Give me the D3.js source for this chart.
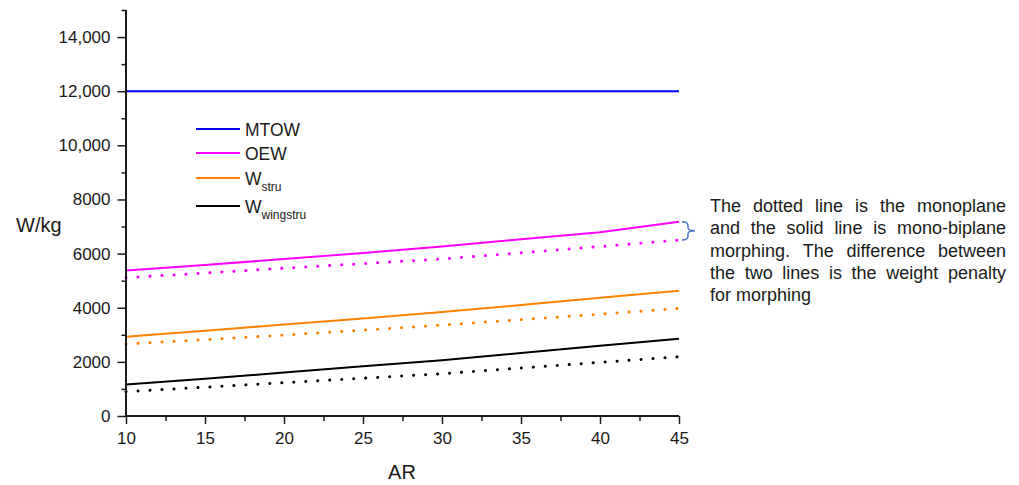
<!DOCTYPE html>
<html lang="en">
<head>
<meta charset="utf-8">
<script src="https://cdn.jsdelivr.net/npm/d3@7"></script>
<style>
  body { margin: 0; background: #fff; }
  text { font-family: "Liberation Sans", Arial, sans-serif; fill: #1a1a1a; }
</style>
</head>
<body>
<script>
var ar = [10, 15, 20, 25, 30, 35, 40, 45];
var mtow = [12000, 12000, 12000, 12000, 12000, 12000, 12000, 12000];
var oewSolid = [5380, 5580, 5800, 6020, 6260, 6530, 6790, 7180];
var oewDotted = [5110, 5280, 5460, 5630, 5800, 6030, 6260, 6500];
var struSolid = [2930, 3150, 3380, 3600, 3840, 4100, 4365, 4625];
var struDotted = [2660, 2820, 2990, 3170, 3360, 3560, 3760, 3975];
var wingSolid = [1160, 1375, 1606, 1840, 2060, 2326, 2592, 2855];
var wingDotted = [900, 1064, 1230, 1396, 1563, 1773, 1982, 2190];

var xTicks = [10, 15, 20, 25, 30, 35, 40, 45];
var yTicks = [0, 2000, 4000, 6000, 8000, 10000, 12000, 14000];
var yTickLabels = ['0', '2000', '4000', '6000', '8000', '10,000', '12,000', '14,000'];

var legendNames = ['MTOW', 'OEW', 'W', 'W'];
var legendSubs = ['', '', 'stru', 'wingstru'];

var noteLines = [
    'The dotted line is the monoplane',
    'and the solid line is mono-biplane',
    'morphing. The difference between',
    'the two lines is the weight penalty',
    'for morphing'
];

var series = [
    { values: mtow, color: '#0000ff', dotted: false },
    { values: oewSolid, color: '#ff00ff', dotted: false },
    { values: oewDotted, color: '#ff00ff', dotted: true },
    { values: struSolid, color: '#ff8000', dotted: false },
    { values: struDotted, color: '#ff8000', dotted: true },
    { values: wingSolid, color: '#000000', dotted: false },
    { values: wingDotted, color: '#000000', dotted: true }
];
var legendColors = ['#0000ff', '#ff00ff', '#ff8000', '#000000'];

var svg = d3.select('body').append('svg')
        .attr('width', 1019)
        .attr('height', 485);

var x = d3.scaleLinear().domain([10, 45]).range([126, 679]);
var y = d3.scaleLinear().domain([0, 15000]).range([416, 10]);

var line = d3.line()
        .x(function (d, i) { return x(ar[i]); })
        .y(function (d) { return y(d); });

svg.selectAll('path.series')
        .data(series)
        .enter()
        .append('path')
        .attr('class', 'series')
        .attr('fill', 'none')
        .attr('stroke', function (d) { return d.color; })
        .attr('stroke-width', function (d) { return d.dotted ? 3 : 2; })
        .attr('stroke-linecap', function (d) { return d.dotted ? 'round' : 'butt'; })
        .attr('stroke-dasharray', function (d) { return d.dotted ? '0.1,11.9' : null; })
        .attr('d', function (d) { return line(d.values); });

// axes
var yMinor = svg.append('g')
        .attr('transform', 'translate(126,0)')
        .call(d3.axisLeft(y).tickValues(d3.range(1000, 16000, 2000)).tickSize(4.5).tickFormat(''));
var yAxis = svg.append('g')
        .attr('transform', 'translate(126,0)')
        .call(d3.axisLeft(y).tickValues(yTicks).tickSize(8.5).tickPadding(7)
                .tickFormat(function (d, i) { return yTickLabels[i]; }));

var xMinor = svg.append('g')
        .attr('transform', 'translate(0,416)')
        .call(d3.axisBottom(x).tickValues(d3.range(12.5, 45, 5)).tickSize(5).tickFormat(''));
var xAxis = svg.append('g')
        .attr('transform', 'translate(0,416)')
        .call(d3.axisBottom(x).tickValues(xTicks).tickSize(8).tickPadding(8));

[yMinor, yAxis, xMinor, xAxis].forEach(function (g) {
    g.select('.domain').attr('stroke', '#1a1a1a').attr('stroke-width', 1.8);
    g.selectAll('.tick line').attr('stroke', '#1a1a1a').attr('stroke-width', 1.5);
    g.selectAll('.tick text').attr('font-size', 17).attr('font-family', '"Liberation Sans", Arial, sans-serif').attr('fill', '#1a1a1a');
});
yMinor.select('.domain').attr('d', 'M0,10V416');
yAxis.select('.domain').attr('d', 'M0,10V416');
xMinor.select('.domain').attr('d', 'M126,0H679');
xAxis.select('.domain').attr('d', 'M126,0H679');

// axis titles
svg.append('text').attr('x', 16).attr('y', 232).attr('font-size', 20).text('W/kg');
svg.append('text').attr('x', 402).attr('y', 479).attr('font-size', 20).attr('text-anchor', 'middle').text('AR');

// legend
var legendY = [129, 153, 178, 206];
var lg = svg.selectAll('g.legend')
        .data(legendNames)
        .enter()
        .append('g')
        .attr('class', 'legend')
        .attr('transform', function (d, i) { return 'translate(196,' + legendY[i] + ')'; });
lg.append('line')
        .attr('x1', 0).attr('x2', 44)
        .attr('stroke', function (d, i) { return legendColors[i]; })
        .attr('stroke-width', 2);
var lt = lg.append('text')
        .attr('x', 49).attr('y', 6.5)
        .attr('font-size', 17.5);
lt.append('tspan').text(function (d) { return d; });
lt.append('tspan')
        .attr('font-size', 12)
        .attr('dy', 6)
        .text(function (d, i) { return legendSubs[i]; });

// brace
var bx = x(45) + 3, bTop = y(oewSolid[7]), bBot = y(oewDotted[7]), bMid = (bTop + bBot) / 2;
svg.append('path')
        .attr('fill', 'none')
        .attr('stroke', '#4a76c8')
        .attr('stroke-width', 1.5)
        .attr('d', 'M' + bx + ',' + bTop + 'Q' + (bx + 6) + ',' + bTop + ' ' + (bx + 6) + ',' + (bTop + 4) +
                'V' + (bMid - 3) + 'Q' + (bx + 6) + ',' + bMid + ' ' + (bx + 13) + ',' + bMid +
                'Q' + (bx + 6) + ',' + bMid + ' ' + (bx + 6) + ',' + (bMid + 3) +
                'V' + (bBot - 4) + 'Q' + (bx + 6) + ',' + bBot + ' ' + bx + ',' + bBot);

// justified note
var noteLeft = 710, noteRight = 1006, noteTop = 212, noteStep = 22.3;
noteLines.forEach(function (ln, li) {
    var words = ln.split(' ');
    var g = svg.append('g');
    var nodes = words.map(function (w) {
        return g.append('text').attr('font-size', 18).attr('y', noteTop + li * noteStep).text(w);
    });
    var widths = nodes.map(function (n) { return n.node().getComputedTextLength(); });
    var total = d3.sum(widths);
    var gap = (li === noteLines.length - 1) ? 5 : (noteRight - noteLeft - total) / (words.length - 1);
    var cx = noteLeft;
    nodes.forEach(function (n, i) {
        n.attr('x', cx);
        cx += widths[i] + gap;
    });
});
</script>
</body>
</html>
